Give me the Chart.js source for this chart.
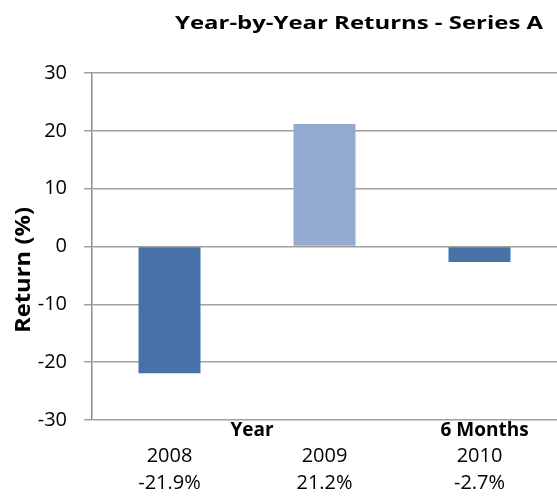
<!DOCTYPE html>
<html>
<head>
<meta charset="utf-8">
<script src="https://cdn.jsdelivr.net/npm/chart.js@4"></script>
<style>
  html, body { margin: 0; padding: 0; background: #fff; }
  #wrap { width: 557px; height: 498px; }
</style>
</head>
<body>
<div id="wrap"><canvas id="returns-chart"></canvas></div>
<script>
const years = ['2008', '2009', '2010'];
const returns = [-21.9, 21.2, -2.7];
const returnLabels = ['-21.9%', '21.2%', '-2.7%'];
const barColors = ['#4672a8', '#95aad0', '#4672a8'];
const groups = [
    { text: 'Year', from: 0, to: 1 },
    { text: '6 Months', from: 2, to: 2 }
];

const FONT = '"Open Sans"';

// text squeezed/stretched to a given width (the original font is wider than Open Sans)
function fitText(c, text, x, y, w) {
    let m = c.measureText(text).width;
    c.save();
    c.translate(x, y);
    c.scale(w / m, 1);
    c.fillText(text, 0, 0);
    c.restore();
}

// title, rotated y title and the bold group labels above the years
const extraText = {
    id: 'extraText',
    afterDraw(chart) {
        const c = chart.ctx;
        const x = chart.scales.x;
        c.save();
        c.fillStyle = '#000';
        c.textAlign = 'center';
        c.textBaseline = 'alphabetic';
        c.font = 'bold 18px ' + FONT;
        fitText(c, 'Year-by-Year Returns - Series A', 359, 29, 368);

        c.font = 'bold 19px ' + FONT;
        groups.forEach(function (g) {
            let px = (x.getPixelForValue(g.from) + x.getPixelForValue(g.to)) / 2;
            c.fillText(g.text, px + 5, 436);
        });

        c.translate(30, 270);
        c.rotate(-Math.PI / 2);
        c.font = 'bold 22px ' + FONT;
        fitText(c, 'Return (%)', 0, 0, 126);
        c.restore();
    }
};

const ctx = document.getElementById('returns-chart').getContext('2d');
const myChart = new Chart(ctx, {
    type: 'bar',
    data: {
        labels: years.map(function (y, i) { return [y, returnLabels[i]]; }),
        datasets: [{
            data: returns,
            backgroundColor: barColors,
            borderWidth: 0,
            barPercentage: 0.4,
            categoryPercentage: 1
        }]
    },
    options: {
        responsive: true,
        maintainAspectRatio: false,
        animation: false,
        layout: { padding: { top: 73, right: 0, left: 0, bottom: 0 } },
        plugins: {
            legend: { display: false },
            tooltip: { enabled: false }
        },
        scales: {
            x: {
                grid: { display: false, drawTicks: false },
                border: { display: false },
                ticks: {
                    color: '#000',
                    font: { family: 'Open Sans', size: 20, lineHeight: 1.35 },
                    padding: 23,
                    maxRotation: 0
                },
                afterFit: function (s) { s.height = 78; }
            },
            y: {
                min: -30,
                max: 30,
                grid: { color: '#a0a0a0', lineWidth: 1.5, tickLength: 8 },
                border: { color: '#8c8c8c', width: 1.5 },
                ticks: {
                    stepSize: 10,
                    color: '#000',
                    font: { family: 'Open Sans', size: 20 },
                    padding: 17
                },
                afterFit: function (s) { s.width = 92; }
            }
        }
    },
    plugins: [extraText]
});
</script>
</body>
</html>
